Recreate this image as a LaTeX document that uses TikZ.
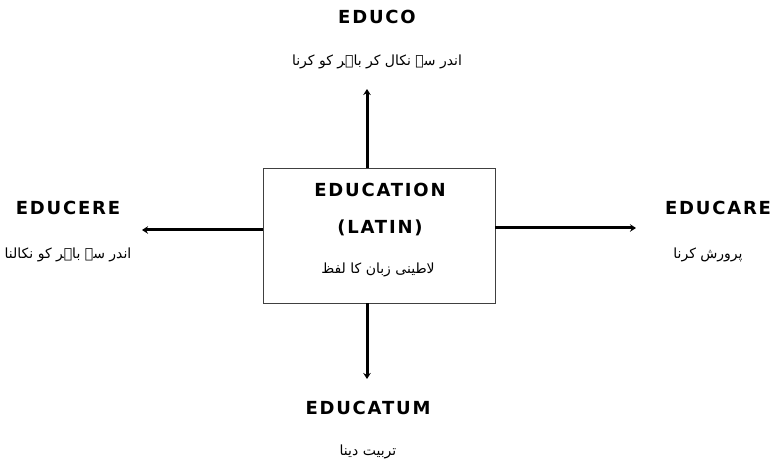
\documentclass[tikz,border=0pt]{standalone}
\usepackage{fontspec}
\setmainfont{DejaVu Sans}
\newfontfamily\urdufont[Script=Arabic]{DejaVu Sans}
\newfontfamily\labfont[LetterSpace=10]{DejaVu Sans Bold}
\TeXXeTstate=1
\usetikzlibrary{arrows.meta}
\begin{document}
\begin{tikzpicture}[x=1pt,y=-1pt,
  lab/.style={font=\labfont\fontsize{18}{20}\selectfont, inner sep=0pt},
  ur/.style={font=\urdufont\fontsize{14}{16}\selectfont, inner sep=0pt},
  arr/.style={line width=3pt,-{Stealth[length=6pt,width=7.5pt]}}]
\useasboundingbox (0,0) rectangle (780,470);
\node[draw=black!75, line width=0.9pt, minimum width=232pt, minimum height=135pt, inner sep=0pt] (box) at (379,235.5) {};
% centre texts
\node[lab] (edu) at (380,190) {EDUCATION};
\node[lab] (lat) at (380,228) {(LATIN)};
\node[ur] (ulat) at (378,270) {\beginR لاطینی زبان کا لفظ\endR};
% top
\node[lab] (educo) at (377,17) {EDUCO};
\node[ur] (uco) at (377,62) {\beginR اندر سے نکال کر باہر کو کرنا\endR};
% left
\node[lab] (educere) at (68,208) {EDUCERE};
\node[ur] (ucere) at (68,255) {\beginR اندر سے باہر کو نکالنا\endR};
% right
\node[lab] (educare) at (718,208) {EDUCARE};
\node[ur] (ucare) at (708,255) {\beginR پرورش کرنا\endR};
% bottom
\node[lab] (educatum) at (368,408) {EDUCATUM};
\node[ur] (ucatum) at (368,452) {\beginR تربیت دینا\endR};
% arrow ends
\coordinate (tT) at (367,89);
\coordinate (tB) at (367,379);
\coordinate (tL) at (142,230);
\coordinate (tR) at (636,228);
\draw[arr] (box.north -| tT) -- (tT);
\draw[arr] (box.south -| tB) -- (tB);
\draw[arr] (box.west |- tL) -- (tL);
\draw[arr] (box.east |- tR) -- (tR);
\end{tikzpicture}
\end{document}
